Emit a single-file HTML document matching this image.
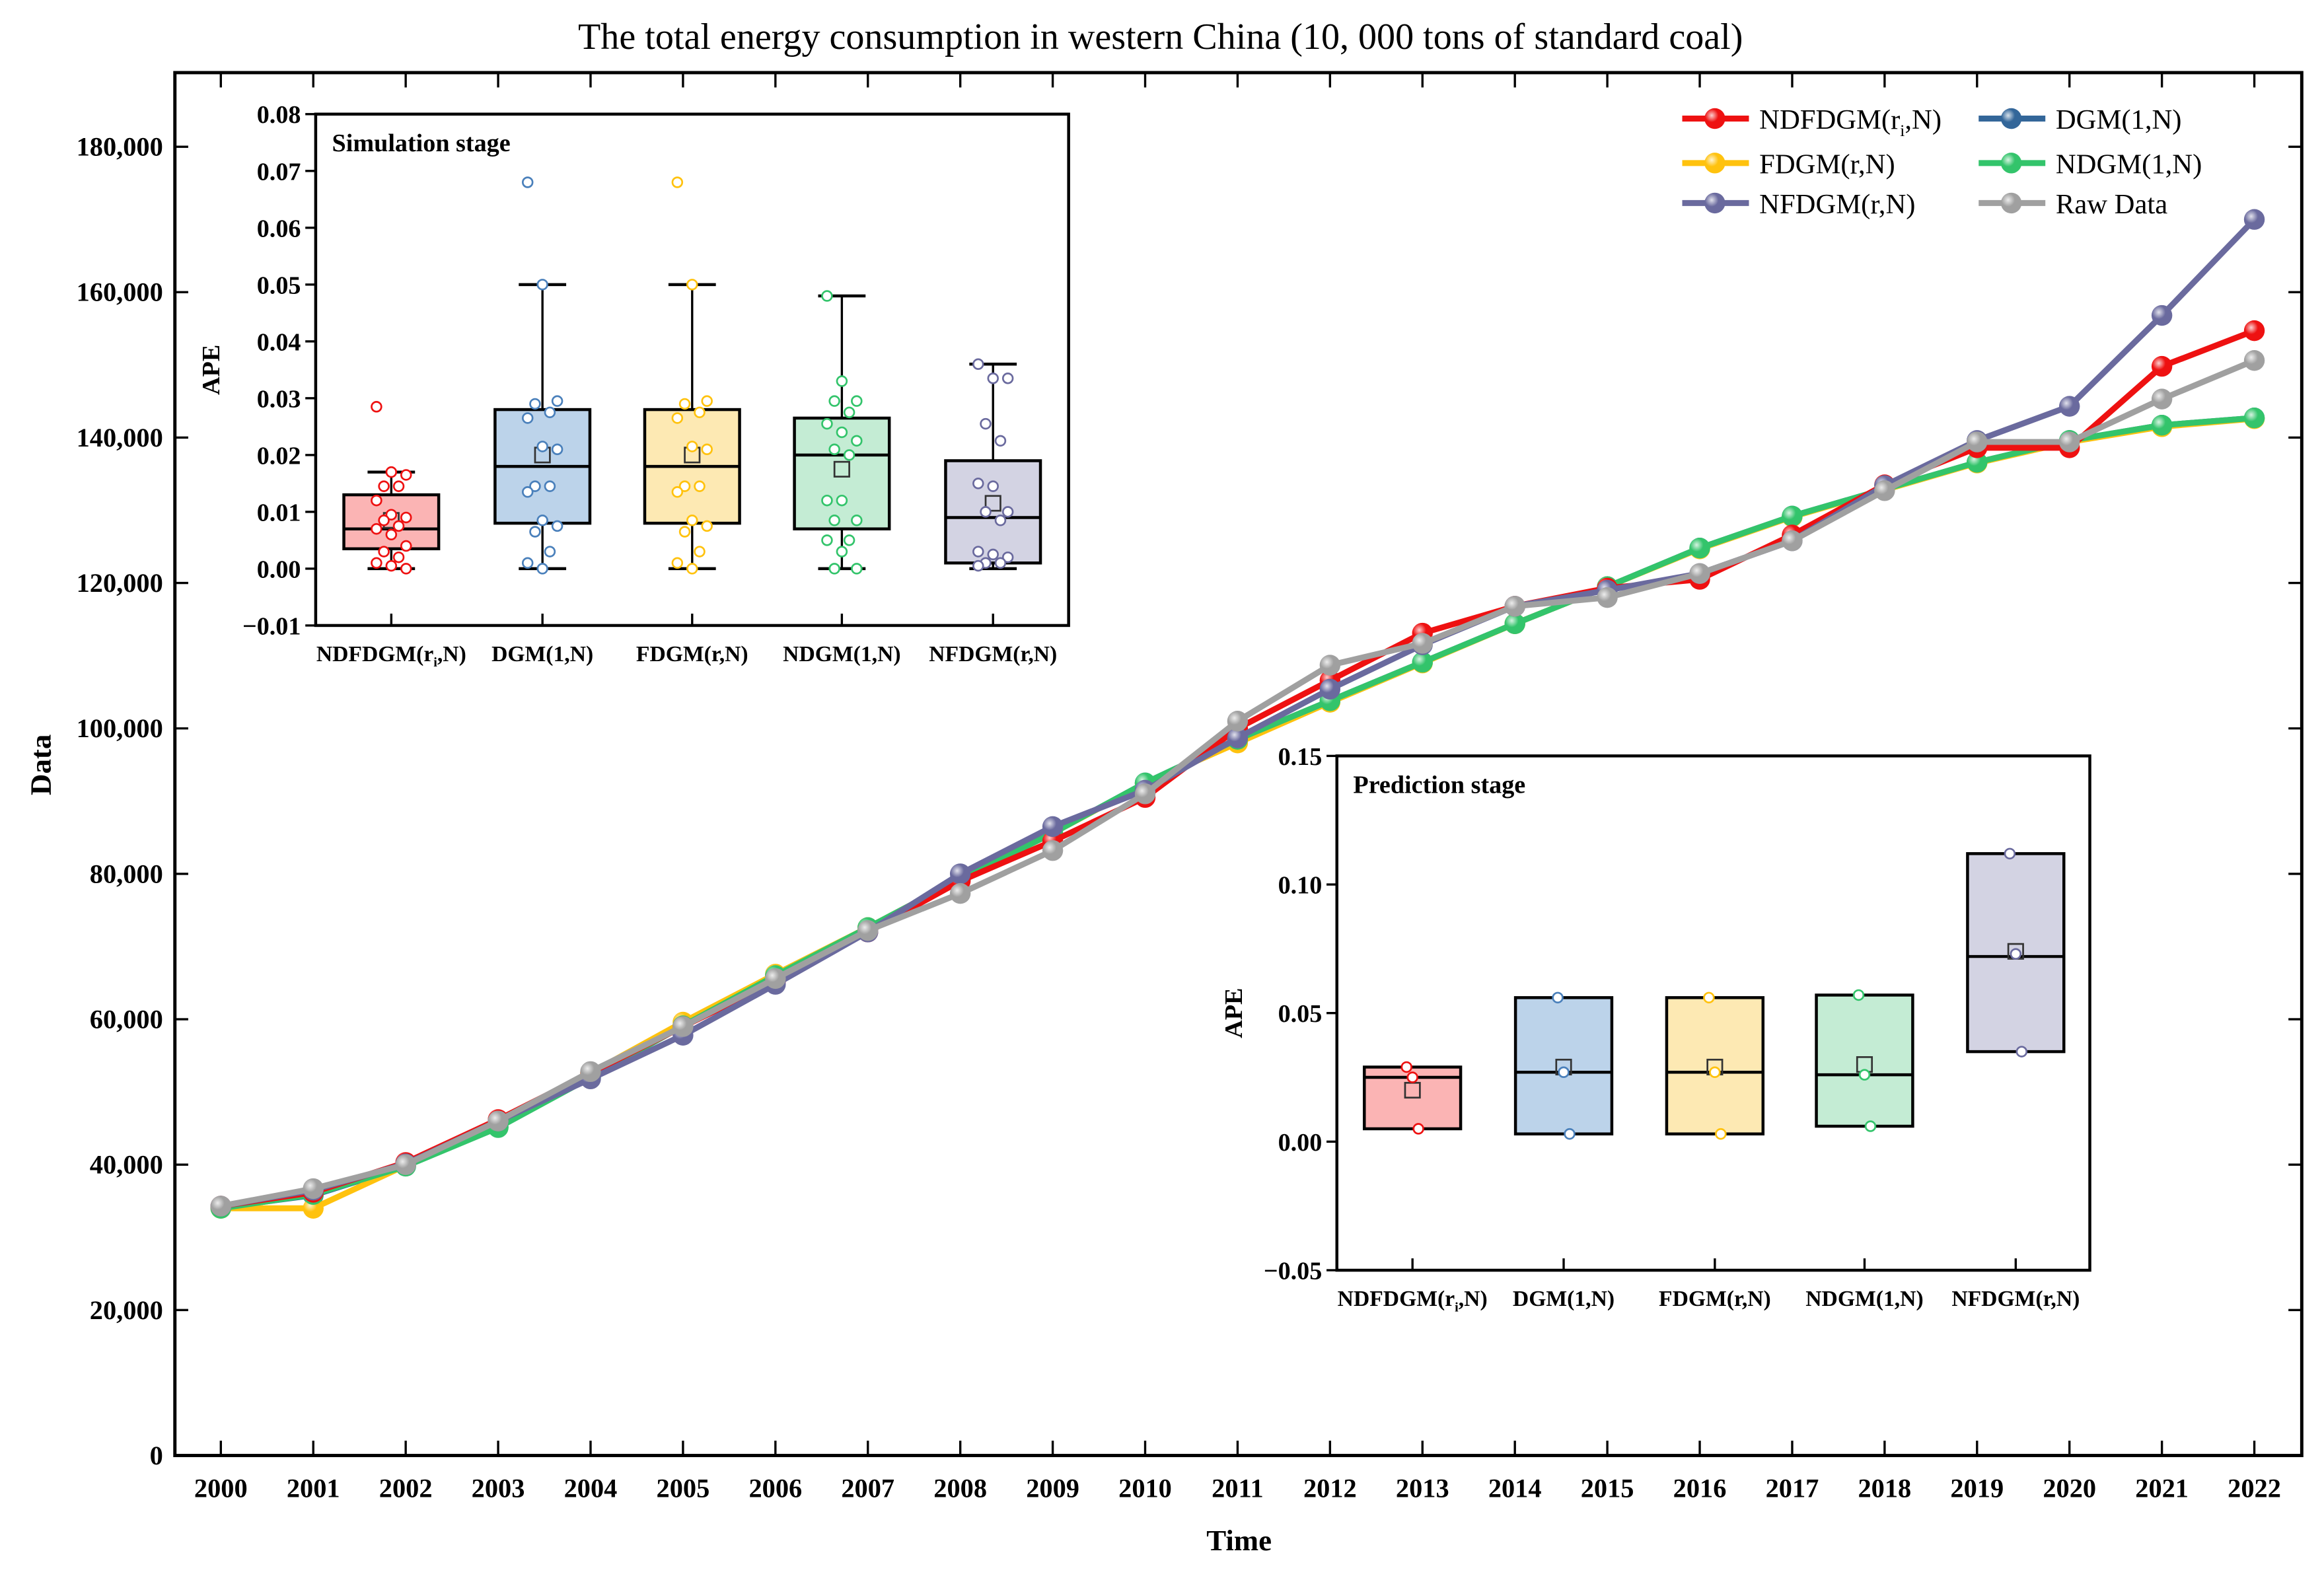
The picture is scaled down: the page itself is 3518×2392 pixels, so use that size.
<!DOCTYPE html>
<html><head><meta charset="utf-8"><style>
html,body{margin:0;padding:0;background:#fff}
svg{display:block;font-family:"Liberation Serif",serif}
</style></head><body>
<svg id="c" width="3518" height="2392" viewBox="0 0 1568 1066" preserveAspectRatio="none" xmlns="http://www.w3.org/2000/svg">
<defs>
<radialGradient id="shine" cx="0.35" cy="0.35" r="0.65"><stop offset="0" stop-color="#fff" stop-opacity="0.8"/><stop offset="0.5" stop-color="#fff" stop-opacity="0"/></radialGradient>
</defs>
<g id="main"></g>
</svg>
<script>
const years=[2000,2001,2002,2003,2004,2005,2006,2007,2008,2009,2010,2011,2012,2013,2014,2015,2016,2017,2018,2019,2020,2021,2022];
const yTicks=[0,20000,40000,60000,80000,100000,120000,140000,160000,180000];
const seriesNames=["NDFDGM(ri,N)","DGM(1,N)","FDGM(r,N)","NDGM(1,N)","NFDGM(r,N)","Raw Data"];
const seriesColors=["#ee1111","#336699","#ffc20e","#33c46b","#6a6a9e","#a0a0a0"];
const valsNDFDGM=[34300,36200,40300,46200,52600,59000,65200,72000,79000,84500,90500,100000,106600,113100,116800,119300,120500,126600,133500,138600,138600,149800,154700];
const valsDGM=[34100,35800,39800,45200,52000,59100,66000,72600,79300,85600,92500,98500,103800,109100,114400,119500,124800,129200,132900,136600,139600,141700,142700];
const valsFDGM=[34000,34000,39900,45600,52600,59600,66200,72600,79300,85600,92400,98000,103600,109000,114400,119500,124700,129100,132800,136500,139400,141500,142600];
const valsNDGM=[34000,35900,39800,45100,52000,59100,66000,72600,79300,85600,92500,98500,103800,109100,114400,119500,124800,129200,132900,136600,139600,141700,142700];
const valsNFDGM=[34300,36500,40100,46000,51800,57800,64800,72000,80000,86500,91500,98700,105400,111500,116800,119000,121300,125800,133400,139600,144300,156800,170000];
const valsRaw=[34300,36700,40000,46000,52800,59000,65600,72200,77300,83200,91000,101000,108700,111700,116800,118000,121300,125800,132700,139400,139400,145300,150600];

const boxLabels=["NDFDGM(ri,N)","DGM(1,N)","FDGM(r,N)","NDGM(1,N)","NFDGM(r,N)"];
const boxFill=["#fbb4b4","#bcd3ea","#fde9b3","#c4ecd4","#d3d3e3"];
const boxStroke=["#ee1111","#4a80bb","#ffc20e","#33c46b","#6a6a9e"];
const simTicks=[-0.01,0,0.01,0.02,0.03,0.04,0.05,0.06,0.07,0.08];
const simMin=[0,0,0,0,0];
const simQ1=[0.0035,0.008,0.008,0.007,0.001];
const simMed=[0.007,0.018,0.018,0.020,0.009];
const simQ3=[0.013,0.028,0.028,0.0265,0.019];
const simMax=[0.017,0.050,0.050,0.048,0.036];
const simMean=[0.0085,0.020,0.020,0.0175,0.0115];
const simPts0=[0.0285,0.017,0.0165,0.0145,0.0145,0.012,0.0095,0.009,0.0085,0.0075,0.007,0.006,0.004,0.003,0.002,0.001,0.0005,0.0];
const simPts1=[0.068,0.050,0.0295,0.029,0.0275,0.0265,0.0215,0.021,0.0145,0.0145,0.0135,0.0085,0.0075,0.0065,0.003,0.001,0.0];
const simPts2=[0.068,0.050,0.0295,0.029,0.0275,0.0265,0.0215,0.021,0.0145,0.0145,0.0135,0.0085,0.0075,0.0065,0.003,0.001,0.0];
const simPts3=[0.048,0.033,0.0295,0.0295,0.0275,0.0255,0.024,0.0225,0.021,0.020,0.012,0.012,0.0085,0.0085,0.005,0.005,0.003,0.0,0.0];
const simPts4=[0.036,0.0335,0.0335,0.0255,0.0225,0.015,0.0145,0.010,0.010,0.0085,0.003,0.0025,0.002,0.001,0.001,0.0005];
const preTicks=[-0.05,0,0.05,0.10,0.15];
const preQ1=[0.005,0.003,0.003,0.006,0.035];
const preMed=[0.025,0.027,0.027,0.026,0.072];
const preQ3=[0.029,0.056,0.056,0.057,0.112];
const preMean=[0.020,0.029,0.029,0.030,0.074];
const prePts0=[0.029,0.025,0.005];
const prePts1=[0.056,0.027,0.003];
const prePts2=[0.056,0.027,0.003];
const prePts3=[0.057,0.026,0.006];
const prePts4=[0.112,0.073,0.035];

const NS="http://www.w3.org/2000/svg";
const root=document.getElementById('main');
function mk(tag,attrs,parent,text){const e=document.createElementNS(NS,tag);for(const k in attrs)e.setAttribute(k,attrs[k]);if(text!==undefined)e.textContent=text;(parent||root).appendChild(e);return e;}
function label(parent,x,y,str,size,anchor,weight){const t=mk('text',{x:x,y:y,'font-size':size,'text-anchor':anchor||'middle','font-weight':weight||'bold'},parent);
 if(str.indexOf('ri,')>=0){const p=str.split('ri,');t.appendChild(document.createTextNode(p[0]+'r'));const s=document.createElementNS(NS,'tspan');s.setAttribute('font-size',size*0.6);s.setAttribute('dy',size*0.25);s.textContent='i';t.appendChild(s);const s2=document.createElementNS(NS,'tspan');s2.setAttribute('dy',-size*0.25);s2.textContent=','+p[1];t.appendChild(s2);}else t.textContent=str;return t;}

const L=118,R=1553,T=49,B=982;
const xS=y=>149+(y-2000)*(1521-149)/22;
const yS=v=>B-v/180000*(B-99);
const title=label(root,783,33,"The total energy consumption in western China (10, 000 tons of standard coal)",25,'middle','normal');


const frame=mk('rect',{x:L,y:T,width:R-L,height:B-T,fill:'none',stroke:'#000','stroke-width':2.2});


years.forEach(y=>{const x=xS(y);mk('line',{x1:x,x2:x,y1:B,y2:B-10,stroke:'#000','stroke-width':1.5});mk('line',{x1:x,x2:x,y1:T,y2:T+10,stroke:'#000','stroke-width':1.5});
 const t=label(root,x,1010,String(y),18);
 
 });
yTicks.forEach(v=>{const y=yS(v);mk('line',{x1:L,x2:L+9,y1:y,y2:y,stroke:'#000','stroke-width':1.5});mk('line',{x1:R,x2:R-9,y1:y,y2:y,stroke:'#000','stroke-width':1.5});
 const t=label(root,110,y+6,v.toLocaleString('en-US'),18,'end');
 
 });
const xt=label(root,836,1046,"Time",20);


const yt=label(root,0,0,"Data",20);
yt.setAttribute('transform','translate(34,516) rotate(-90)');



const allVals=[valsNDFDGM,valsDGM,valsFDGM,valsNDGM,valsNFDGM,valsRaw];
const order=[1,2,3,0,4,5];
order.forEach(si=>{const g=mk('g',{});
 
 
 const pts=allVals[si].map((v,i)=>xS(years[i])+','+yS(v)).join(' ');
 mk('polyline',{points:pts,fill:'none',stroke:seriesColors[si],'stroke-width':4,'stroke-linejoin':'round'},g);
 allVals[si].forEach((v,i)=>{const c=mk('circle',{cx:xS(years[i]),cy:yS(v),r:7,fill:seriesColors[si]},g);
  
  
  mk('circle',{cx:xS(years[i]),cy:yS(v),r:7,fill:'url(#shine)'},g);});
});
const lg=mk('g',{});


const legPos=[[1135,80],[1335,80],[1135,110],[1335,110],[1135,137],[1335,137]];
seriesNames.forEach((n,i)=>{const [x,y]=legPos[i];const e=mk('g',{},lg);
 
 
 mk('line',{x1:x,x2:x+45,y1:y,y2:y,stroke:seriesColors[i],'stroke-width':4},e);
 mk('circle',{cx:x+22,cy:y,r:7,fill:seriesColors[i]},e);mk('circle',{cx:x+22,cy:y,r:7,fill:'url(#shine)'},e);
 label(e,x+52,y+7,n,19,'start','normal');});

function inset(name,fx,fy,fw,fh,ticks,vmin,vmax,mins,q1,med,q3,maxs,mean,pts,centers,bw,tfmt,caption,ylab,pr){
 const g=mk('g',{});
 
 
 mk('rect',{x:fx,y:fy,width:fw,height:fh,fill:'#fff',stroke:'#000','stroke-width':2},g);
 const s=v=>fy+fh-(v-vmin)/(vmax-vmin)*fh;
 ticks.forEach(v=>{mk('line',{x1:fx-7,x2:fx,y1:s(v),y2:s(v),stroke:'#000','stroke-width':1.5},g);
  label(g,fx-10,s(v)+6,tfmt(v),17,'end');});
 label(g,fx+11,fy+25,caption,17,'start');
 const yl=label(g,0,0,'APE',17);yl.setAttribute('transform','translate('+(ylab)+','+(fy+fh/2)+') rotate(-90)');
 centers.forEach((cx,i)=>{const bg=mk('g',{},g);
  
  
  mk('line',{x1:cx,x2:cx,y1:fy+fh,y2:fy+fh-8,stroke:'#000','stroke-width':1.5},bg);
  if(mins){mk('line',{x1:cx,x2:cx,y1:s(mins[i]),y2:s(maxs[i]),stroke:'#000','stroke-width':1.5},bg);
   mk('line',{x1:cx-16,x2:cx+16,y1:s(mins[i]),y2:s(mins[i]),stroke:'#000','stroke-width':2},bg);
   mk('line',{x1:cx-16,x2:cx+16,y1:s(maxs[i]),y2:s(maxs[i]),stroke:'#000','stroke-width':2},bg);}
  mk('rect',{x:cx-bw/2,y:s(q3[i]),width:bw,height:s(q1[i])-s(q3[i]),fill:boxFill[i],stroke:'#000','stroke-width':2},bg);
  mk('line',{x1:cx-bw/2,x2:cx+bw/2,y1:s(med[i]),y2:s(med[i]),stroke:'#000','stroke-width':2},bg);
  mk('rect',{x:cx-5,y:s(mean[i])-5,width:10,height:10,fill:'none',stroke:'#333','stroke-width':1.2},bg);
  pts[i].forEach((v,j)=>{const off=pr?((j%3)-1)*4:(((j*7)%5)-2)*5;const c=mk('circle',{cx:cx+off,cy:s(v),r:3.3,fill:'#fff',stroke:boxStroke[i],'stroke-width':1.2},bg);
   
   });
  label(bg,cx,fy+fh+24,boxLabels[i],15);
 });
}
inset('simulation-inset',213,77,508,345,simTicks,-0.01,0.08,simMin,simQ1,simMed,simQ3,simMax,simMean,[simPts0,simPts1,simPts2,simPts3,simPts4],[264,366,467,568,670],64,v=>(v<0?'\u22120.01':v.toFixed(2)),'Simulation stage',148,false);
inset('prediction-inset',902,510,508,347,preTicks,-0.05,0.15,null,preQ1,preMed,preQ3,null,preMean,[prePts0,prePts1,prePts2,prePts3,prePts4],[953,1055,1157,1258,1360],65,v=>(v<0?'\u22120.05':v.toFixed(2)),'Prediction stage',838,true);
</script>
</body></html>
